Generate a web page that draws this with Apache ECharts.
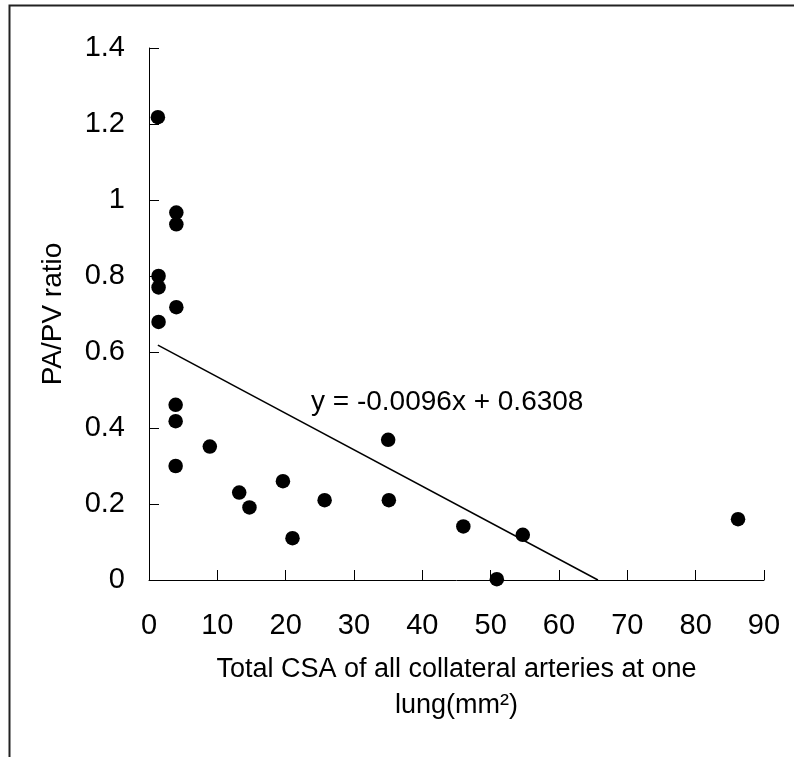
<!DOCTYPE html>
<html>
<head>
<meta charset="utf-8">
<script src="https://cdn.jsdelivr.net/npm/echarts@6/dist/echarts.min.js"></script>
<style>
  html, body { margin: 0; padding: 0; background: #fff; }
  #chart { width: 794px; height: 757px; }
</style>
</head>
<body>
<div id="chart"></div>
<script>
// scatter points
const csaX = [1.3, 4.0, 4.0, 1.4, 1.4, 4.0, 1.4, 3.9, 3.9, 3.9, 8.9, 13.2, 14.7, 19.6, 21.0, 25.7, 35.0, 35.1, 46.0, 50.9, 54.7, 86.2]
const ratioY = [1.218, 0.967, 0.936, 0.80, 0.77, 0.718, 0.679, 0.461, 0.418, 0.300, 0.351, 0.230, 0.191, 0.26, 0.11, 0.21, 0.369, 0.21, 0.141, 0.002, 0.119, 0.16]

// trend line end points as drawn
const trendX = [1.3, 65.7]
const trendY = [0.618, 0]
const trendLabel = 'y = -0.0096x + 0.6308'

const xTitle = 'Total CSA of all collateral arteries at one\nlung(mm²)'
const yTitle = 'PA/PV ratio'

const font = '"Liberation Sans", Arial, sans-serif'

const myChart = echarts.init(document.getElementById('chart'))

const points = csaX.map((x, i) => [x, ratioY[i]])
const trend = trendX.map((x, i) => [x, trendY[i]])

const option = {
  animation: false,
  backgroundColor: '#fff',
  textStyle: { fontFamily: font, color: '#000' },
  grid: {
    left: 149,
    right: 30,
    top: 48,
    bottom: 177
  },
  xAxis: {
    type: 'value',
    min: 0,
    max: 90,
    interval: 10,
    name: xTitle,
    nameLocation: 'middle',
    nameGap: 72,
    nameTextStyle: { fontSize: 27, lineHeight: 36, color: '#000', fontFamily: font },
    axisLine: { show: true, lineStyle: { color: '#000', width: 1 } },
    axisTick: { show: true, inside: true, length: 10, lineStyle: { color: '#000' } },
    axisLabel: { fontSize: 29, margin: 31, color: '#000', fontFamily: font },
    splitLine: { show: false }
  },
  yAxis: {
    type: 'value',
    min: 0,
    max: 1.4,
    interval: 0.2,
    name: yTitle,
    nameLocation: 'middle',
    nameRotate: 90,
    nameGap: 82,
    nameTextStyle: { fontSize: 28, color: '#000', fontFamily: font },
    axisLine: { show: true, lineStyle: { color: '#000', width: 1 } },
    axisTick: { show: true, inside: true, length: 10, lineStyle: { color: '#000' } },
    axisLabel: { fontSize: 29, margin: 24, color: '#000', fontFamily: font },
    splitLine: { show: false }
  },
  graphic: [
    {
      type: 'rect',
      shape: { x: 9.5, y: 5.5, width: 1200, height: 1200 },
      style: { fill: 'none', stroke: '#222', lineWidth: 2 },
      silent: true
    },
    {
      type: 'text',
      left: 311,
      top: 388,
      style: { text: trendLabel, fontSize: 28, fill: '#000', fontFamily: font }
    }
  ],
  series: [
    {
      name: 'trend',
      type: 'line',
      data: trend,
      symbol: 'none',
      lineStyle: { color: '#000', width: 1.5 },
      z: 2
    },
    {
      name: 'ratio',
      type: 'scatter',
      data: points,
      symbol: 'circle',
      symbolSize: 14.5,
      clip: false,
      itemStyle: { color: '#000', opacity: 1 },
      z: 3
    }
  ]
}

myChart.setOption(option)
</script>
</body>
</html>
